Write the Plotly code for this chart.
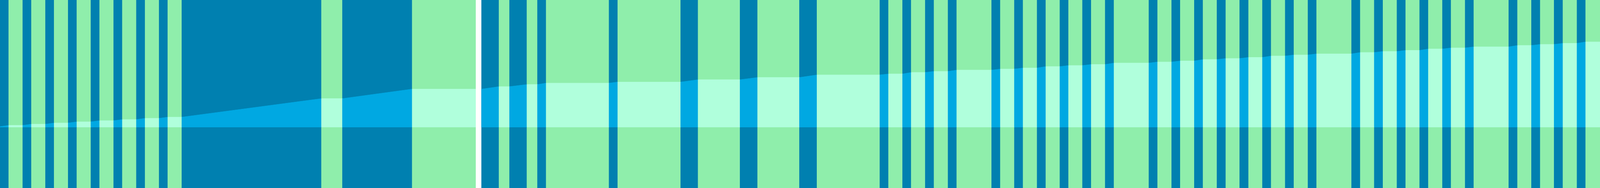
import plotly.graph_objects as go

# band edges (x positions), alternating work / off periods
band_start = [
    0, 24.9, 65.1, 89.9, 130.1, 155.0, 195.2, 220.0, 260.2, 285.1,
    325.3, 350.1, 390.3, 415.2, 455.4, 480.2, 520.4, 920.0, 980.1, 1179.6,
    1378.2, 1428.0, 1458.2, 1508.0, 1538.2, 1563.0, 1743.0, 1767.9, 1948.1, 1997.8,
    2118.0, 2168.1, 2288.0, 2338.1, 2518.0, 2542.9, 2583.1, 2607.9, 2648.1, 2673.0,
    2713.2, 2738.0, 2838.0, 2862.9, 2903.1, 2927.9, 2968.1, 2993.0, 3033.2, 3058.0,
    3097.9, 3123.1, 3162.9, 3188.2, 3288.0, 3312.9, 3353.1, 3377.9, 3418.1, 3443.0,
    3482.8, 3508.1, 3547.9, 3573.2, 3613.0, 3637.9, 3678.1, 3703.0, 3743.2, 3768.0,
    3868.0, 3892.9, 3933.0, 3958.0, 3997.9, 4023.0, 4062.8, 4087.9, 4128.2, 4152.9,
    4193.2, 4217.9, 4317.9, 4343.0, 4382.9, 4408.0, 4447.8, 4472.9, 4513.2, 4537.9,
]
band_end = [
    24.9, 65.1, 89.9, 130.1, 155.0, 195.2, 220.0, 260.2, 285.1, 325.3,
    350.1, 390.3, 415.2, 455.4, 480.2, 520.4, 920.0, 980.1, 1179.6, 1361.0,
    1428.0, 1458.2, 1508.0, 1538.2, 1563.0, 1743.0, 1767.9, 1948.1, 1997.8, 2118.0,
    2168.1, 2288.0, 2338.1, 2518.0, 2542.9, 2583.1, 2607.9, 2648.1, 2673.0, 2713.2,
    2738.0, 2838.0, 2862.9, 2903.1, 2927.9, 2968.1, 2993.0, 3033.2, 3058.0, 3097.9,
    3123.1, 3162.9, 3188.2, 3288.0, 3312.9, 3353.1, 3377.9, 3418.1, 3443.0, 3482.8,
    3508.1, 3547.9, 3573.2, 3613.0, 3637.9, 3678.1, 3703.0, 3743.2, 3768.0, 3868.0,
    3892.9, 3933.0, 3958.0, 3997.9, 4023.0, 4062.8, 4087.9, 4128.2, 4152.9, 4193.2,
    4217.9, 4317.9, 4343.0, 4382.9, 4408.0, 4447.8, 4472.9, 4513.2, 4537.9, 4579.0,
]
band_kind = ["work", "off"] * 45

# cumulative line: level at the very start, then the flat level held in each off band
start_level = 1.5
off_level = [
    5, 8.3, 11.7, 15, 18.3, 21.5, 25, 28.3, 81, 108,
    115, 121, 125, 128, 134.7, 141, 148.3, 151, 155.3, 158.3,
    162, 165, 168, 172, 175, 178, 182, 185, 188, 192,
    195, 198, 202, 205, 208, 212, 215, 218, 222, 225,
    228, 232, 235, 238, 242,
]

band_color = {"work": "#0080B0", "off": "#8FEEAB"}
fill_color = {"work": "#00A8E2", "off": "#B0FFDC"}

fig = go.Figure()

prev = start_level
for i, kind in enumerate(band_kind):
    x0, x1 = band_start[i], band_end[i]
    c = band_color[kind]
    fig.add_vrect(x0=x0, x1=x1, fillcolor=c, line=dict(width=1, color=c),
                  layer="below")
    lvl = off_level[i // 2]
    y0 = prev if kind == "work" else lvl
    fc = fill_color[kind]
    # area under the cumulative line, tinted per band
    fig.add_trace(go.Scatter(
        x=[x0, x0, x1, x1, x0], y=[0, y0, lvl, 0, 0], mode="lines",
        line=dict(width=1, color=fc), fill="toself", fillcolor=fc,
        hoverinfo="skip", showlegend=False,
    ))
    prev = lvl

# figure fills the whole window, like the original
fig.update_layout(
    autosize=True,
    margin=dict(l=0, r=0, t=0, b=0),
    paper_bgcolor="white", plot_bgcolor="white",
    showlegend=False,
)
fig.update_xaxes(range=[0, 4579], visible=False)
# lower end goes past the visible window bottom, which shows down to about -119
fig.update_yaxes(range=[-173, 361], visible=False)

fig.write_html(
    "out.html",
    config={"displayModeBar": False, "responsive": True},
    default_width="100vw",
    default_height="100vh",
    post_script="document.body.style.margin='0';document.body.style.overflow='hidden';",
)
